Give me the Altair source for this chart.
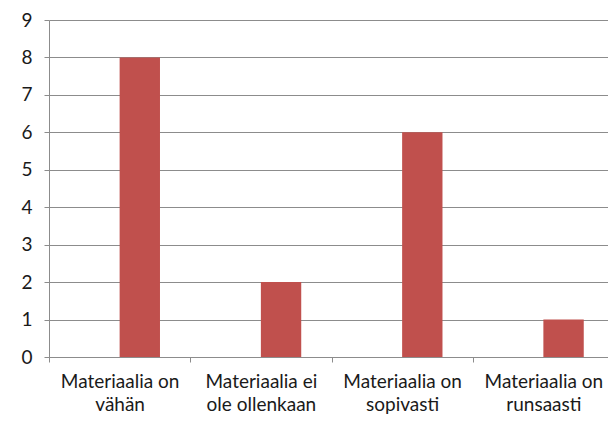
import altair as alt
import pandas as pd

categories = ["Materiaalia on|vähän", "Materiaalia ei|ole ollenkaan", "Materiaalia on|sopivasti", "Materiaalia on|runsaasti"]
series_names = ["Sarja1", "Sarja2"]
values = [8, 2, 6, 1]
y_ticks = list(range(0, 10))

df = pd.DataFrame({"kategoria": categories, "sarja": ["Sarja2"] * len(categories), "arvo": values})

FONT = "Lato"

bars = alt.Chart(df).mark_bar(color="#C0504D").encode(
    x=alt.X("kategoria:N", sort=categories,
            scale=alt.Scale(range=[0, 565], paddingInner=0, paddingOuter=0),
            axis=alt.Axis(title=None, labelAngle=0, labelExpr="split(datum.label, '|')",
                          labelFont=FONT, labelFontSize=19, labelColor="#1a1a1a",
                          labelLineHeight=23, labelPadding=10,
                          tickBand="extent", tickSize=5, tickColor="#8c8c8c",
                          domainColor="#8c8c8c", grid=False)),
    xOffset=alt.XOffset("sarja:N", scale=alt.Scale(domain=series_names, paddingInner=0, paddingOuter=0.75)),
    y=alt.Y("arvo:Q", scale=alt.Scale(domain=[0, 9], nice=False),
            axis=alt.Axis(title=None, values=y_ticks, labelFont=FONT, labelFontSize=19,
                          labelColor="#1a1a1a", labelPadding=12, tickSize=5,
                          tickColor="#8c8c8c", domainColor="#8c8c8c",
                          gridColor="#8c8c8c", gridWidth=1)),
).properties(width=559, height=337)

chart = bars.properties(
    autosize=alt.AutoSizeParams(type="none"),
    padding={"left": 49, "top": 20, "right": 0, "bottom": 69},
).configure_view(stroke=None)

chart.save("out.html", embed_options={"renderer": "svg", "actions": False})
